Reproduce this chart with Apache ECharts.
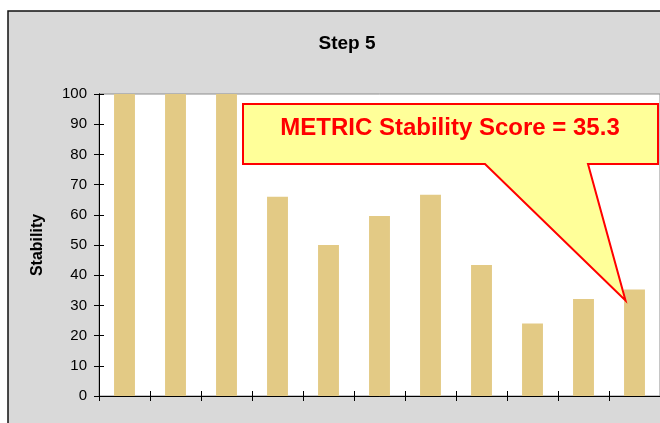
<!DOCTYPE html>
<html>
<head>
<meta charset="utf-8">
<script src="https://cdn.jsdelivr.net/npm/echarts@6/dist/echarts.min.js"></script>
<style>
  html, body { margin: 0; padding: 0; background: #fff; }
  #chart { width: 660px; height: 423px; }
</style>
</head>
<body>
<div id="chart"></div>
<script>
// bar categories (no labels shown on the axis)
var categories = ['1', '2', '3', '4', '5', '6', '7', '8', '9', '10', '11'];
var stability = [100, 100, 100, 66, 50, 59.6, 66.6, 43.4, 24, 32.1, 35.3];
var chartTitle = 'Step 5';
var calloutText = 'METRIC Stability Score = 35.3';
var yTicks = { min: 0, max: 100, interval: 10 };

var font = '"Liberation Sans", Arial, sans-serif';
var myChart = echarts.init(document.getElementById('chart'));

function valueAxis(inside, showLabel) {
    return {
        type: 'value',
        position: 'left',
        min: yTicks.min,
        max: yTicks.max,
        interval: yTicks.interval,
        axisLine: { show: true, lineStyle: { color: '#000', width: 1 } },
        axisTick: { show: true, inside: inside, length: 5, lineStyle: { color: '#000' } },
        axisLabel: { show: showLabel, margin: 12, color: '#000', fontSize: 15, fontFamily: font },
        splitLine: { show: false },
        name: showLabel ? 'Stability' : '',
        nameLocation: 'middle',
        nameGap: 53,
        nameRotate: 90,
        nameTextStyle: { color: '#000', fontSize: 16, fontWeight: 'bold', fontFamily: font }
    };
}

function catAxis(inside) {
    return {
        type: 'category',
        data: categories,
        position: 'bottom',
        axisLine: { show: true, lineStyle: { color: '#000', width: 1 } },
        axisTick: { show: true, inside: inside, length: 5, lineStyle: { color: '#000' } },
        axisLabel: { show: false }
    };
}

var option = {
    animation: false,
    title: {
        text: chartTitle,
        left: 342,
        top: 29,
        textAlign: 'center',
        textStyle: { color: '#000', fontSize: 19, fontWeight: 'bold', fontFamily: font }
    },
    grid: {
        left: 99,
        top: 94,
        right: -1,
        bottom: 27,
        show: true,
        backgroundColor: '#fff',
        borderColor: '#8c8c8c',
        borderWidth: 1
    },
    xAxis: [catAxis(false), catAxis(true)],
    yAxis: [valueAxis(false, true), valueAxis(true, false)],
    series: [
        {
            type: 'bar',
            data: stability,
            xAxisIndex: 0,
            yAxisIndex: 0,
            barWidth: '41%',
            itemStyle: { color: '#E3CA85' }
        }
    ],
    graphic: [
        {
            type: 'rect',
            z: -10,
            silent: true,
            shape: { x: 8, y: 11, width: 700, height: 500 },
            style: { fill: '#D9D9D9', stroke: '#111', lineWidth: 1.5 }
        }
    ]
};
myChart.setOption(option);

// callout pointing at the last bar
var tip = myChart.convertToPixel({ xAxisIndex: 0, yAxisIndex: 0 },
    [categories[categories.length - 1], stability[stability.length - 1]]);
var tipX = tip[0] - 9, tipY = tip[1] + 11;
myChart.setOption({
    graphic: [
        option.graphic[0],
        {
            type: 'polygon',
            z: 50,
            silent: true,
            shape: {
                points: [[243, 104], [658, 104], [658, 164], [588, 164], [tipX, tipY], [485, 164], [243, 164]]
            },
            style: { fill: '#FFFF99', stroke: '#FF0000', lineWidth: 2 }
        },
        {
            type: 'text',
            z: 51,
            silent: true,
            x: 450,
            y: 128,
            style: {
                text: calloutText,
                fill: '#FF0000',
                font: 'bold 24px ' + font,
                textAlign: 'center',
                textVerticalAlign: 'middle'
            }
        }
    ]
});

window.addEventListener('resize', function () {
    myChart.resize();
});
</script>
</body>
</html>
